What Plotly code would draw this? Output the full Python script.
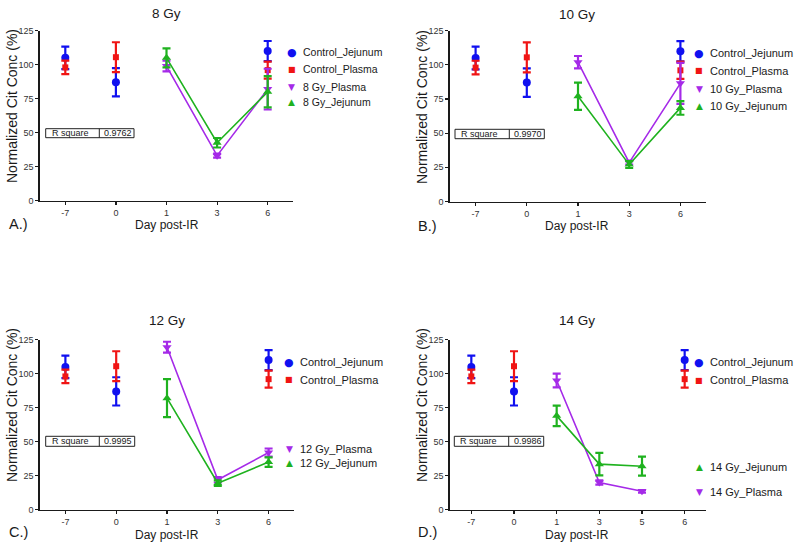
import plotly.graph_objects as go

W, H = 800, 547

# ---------------- data ----------------
days_main = ["-7", "0", "1", "3", "6"]
days_d = ["-7", "0", "1", "3", "5", "6"]
y_ticks = [0, 25, 50, 75, 100, 125]

ctrl_days = ["-7", "0", "6"]
ctrl_jej = [105, 87, 110]
ctrl_jej_err = [8.3, 10.4, 7.4]
ctrl_pla = [98, 105.5, 96]
ctrl_pla_err = [5, 11, 6.3]

dose_days = ["1", "3", "6"]
gy8_pla = [99, 33, 82]
gy8_pla_err = [4, 1.5, 15]
gy8_jej = [105, 42.5, 80]
gy8_jej_err = [7, 3.5, 11.5]

gy10_pla = [102, 28.5, 86.5]
gy10_pla_err = [4.5, 1.5, 15]
gy10_jej = [77, 27, 68.5]
gy10_jej_err = [10, 2.5, 5]

gy12_pla = [119.5, 22, 42]
gy12_pla_err = [4, 2, 3]
gy12_jej = [82, 19.5, 35]
gy12_jej_err = [14, 2, 3.5]

gy14_days = ["1", "3", "5"]
gy14_pla = [95, 20, 13.5]
gy14_pla_err = [5, 1.5, 1]
gy14_jej = [69, 33.5, 32]
gy14_jej_err = [7.5, 8.3, 7]

r_square = ["0.9762", "0.9970", "0.9995", "0.9986"]
titles = ["8 Gy", "10 Gy", "12 Gy", "14 Gy"]
panel_labels = ["A.)", "B.)", "C.)", "D.)"]

# ---------------- styles ----------------
BLUE = "#1010f0"
RED = "#f01414"
PURPLE = "#a52ae8"
GREEN = "#1fb21f"
FONT = "Liberation Sans, Arial, sans-serif"
AX = "#1a1a1a"
TXT = "#1a1a1a"

GLYPH = {"circle": ("\u25CF", 11), "square": ("\u25A0", 8),
         "triangle-down": ("\u25BC", 9), "triangle-up": ("\u25B2", 9)}


def px(x):
    return x / W


def py(y):
    return 1 - y / H


fig = go.Figure()
annotations = []
shapes = []

# panel geometry in pixels: (x0, x1, y_top(125), y_bottom(0))
panels = [
    (40, 293, 30.7, 200.5),
    (450, 706, 30.7, 201.5),
    (40, 294, 339.7, 509.7),
    (450, 706, 339.7, 509.7),
]


def add_trace(panel, name, xs, ys, err, color, symbol, size, lines, leg_xy, leg_font):
    ax = "" if panel == 0 else str(panel + 1)
    fig.add_trace(go.Scatter(
        x=xs, y=ys, name=name,
        mode="lines+markers" if lines else "markers",
        line=dict(color=color, width=1.6),
        marker=dict(color=color, symbol=symbol, size=size),
        error_y=dict(type="data", array=err, color=color, thickness=2.2, width=4),
        xaxis="x" + ax, yaxis="y" + ax, showlegend=False,
        cliponaxis=False,
    ))
    # legend entry (symbol glyph + label) as text
    mx, my = leg_xy
    g, gs = GLYPH[symbol]
    annotations.append(dict(text=g, x=px(mx), y=py(my), xref="paper", yref="paper",
                            showarrow=False, xanchor="center", yanchor="middle",
                            font=dict(size=gs, color=color, family="DejaVu Sans")))
    annotations.append(dict(text=name, x=px(mx + 9), y=py(my), xref="paper", yref="paper",
                            showarrow=False, xanchor="left", yanchor="middle",
                            font=dict(size=leg_font, color=TXT, family=FONT)))


# Panel A
add_trace(0, "Control_Jejunum", ctrl_days, ctrl_jej, ctrl_jej_err, BLUE, "circle", 8, False, (291.7, 52.3), 10.5)
add_trace(0, "Control_Plasma", ctrl_days, ctrl_pla, ctrl_pla_err, RED, "square", 6, False, (291.7, 69.3), 10.5)
add_trace(0, "8 Gy_Plasma", dose_days, gy8_pla, gy8_pla_err, PURPLE, "triangle-down", 8, True, (291.7, 86.7), 10.5)
add_trace(0, "8 Gy_Jejunum", dose_days, gy8_jej, gy8_jej_err, GREEN, "triangle-up", 8, True, (291.7, 102.3), 10.5)
# Panel B
add_trace(1, "Control_Jejunum", ctrl_days, ctrl_jej, ctrl_jej_err, BLUE, "circle", 8, False, (699, 53.3), 11)
add_trace(1, "Control_Plasma", ctrl_days, ctrl_pla, ctrl_pla_err, RED, "square", 6, False, (699, 71), 11)
add_trace(1, "10 Gy_Plasma", dose_days, gy10_pla, gy10_pla_err, PURPLE, "triangle-down", 8, True, (699, 89.3), 11)
add_trace(1, "10 Gy_Jejunum", dose_days, gy10_jej, gy10_jej_err, GREEN, "triangle-up", 8, True, (699, 106), 11)
# Panel C
add_trace(2, "Control_Jejunum", ctrl_days, ctrl_jej, ctrl_jej_err, BLUE, "circle", 8, False, (289, 362.3), 11)
add_trace(2, "Control_Plasma", ctrl_days, ctrl_pla, ctrl_pla_err, RED, "square", 6, False, (289, 379.7), 11)
add_trace(2, "12 Gy_Plasma", dose_days, gy12_pla, gy12_pla_err, PURPLE, "triangle-down", 8, True, (289, 449), 11)
add_trace(2, "12 Gy_Jejunum", dose_days, gy12_jej, gy12_jej_err, GREEN, "triangle-up", 8, True, (289, 463.3), 11)
# Panel D
add_trace(3, "Control_Jejunum", ctrl_days, ctrl_jej, ctrl_jej_err, BLUE, "circle", 8, False, (699, 362.3), 11)
add_trace(3, "Control_Plasma", ctrl_days, ctrl_pla, ctrl_pla_err, RED, "square", 6, False, (699, 380), 11)
add_trace(3, "14 Gy_Plasma", gy14_days, gy14_pla, gy14_pla_err, PURPLE, "triangle-down", 8, True, (699, 492), 11)
add_trace(3, "14 Gy_Jejunum", gy14_days, gy14_jej, gy14_jej_err, GREEN, "triangle-up", 8, True, (699, 467), 11)

layout = dict(
    width=W, height=H,
    margin=dict(l=0, r=0, t=0, b=0, autoexpand=False),
    paper_bgcolor="white", plot_bgcolor="white",
    font=dict(family=FONT, color=TXT),
    showlegend=False,
)

for i, (x0, x1, yt, yb) in enumerate(panels):
    ax = "" if i == 0 else str(i + 1)
    cats = days_d if i == 3 else days_main
    layout["xaxis" + ax] = dict(
        domain=[px(x0), px(x1)], anchor="y" + ax,
        type="category", categoryorder="array", categoryarray=cats,
        range=[-0.5, len(cats) - 0.5],
        showgrid=False, zeroline=False, showline=True, linecolor=AX, linewidth=1.6,
        ticks="outside", ticklen=3, tickwidth=1.2, tickcolor=AX,
        tickfont=dict(size=9, color="#333"), fixedrange=True,
    )
    layout["yaxis" + ax] = dict(
        domain=[py(yb), py(yt)], anchor="x" + ax,
        range=[0, 125], tickvals=y_ticks,
        showgrid=False, zeroline=False, showline=True, linecolor=AX, linewidth=1.6,
        ticks="outside", ticklen=3, tickwidth=1.2, tickcolor=AX,
        tickfont=dict(size=9, color="#333"), fixedrange=True,
    )

fig.update_layout(**layout)

title_pos = [(166, 13), (577, 14), (167, 320), (577, 320)]
xtitle_pos = [(167, 224.5), (577, 226), (167, 534.5), (577, 534.5)]
label_pos = [(7, 224), (416, 226), (7, 532), (416, 532)]
ytitle_pos = [(12, 106), (422, 107), (12, 405), (422, 405)]
rbox = [
    (45.7, 99.3, 134, 128.7, 137.7),
    (455, 509.3, 544.3, 129.3, 138.7),
    (45.7, 99.3, 134.7, 436.3, 446.3),
    (454.3, 508.7, 543.7, 436.3, 446.3),
]

for i in range(4):
    tx, ty = title_pos[i]
    annotations.append(dict(text=titles[i], x=px(tx), y=py(ty), xref="paper", yref="paper",
                            showarrow=False, xanchor="center", yanchor="middle",
                            font=dict(size=13.5, color=TXT)))
    xx, xy = xtitle_pos[i]
    annotations.append(dict(text="Day post-IR", x=px(xx), y=py(xy), xref="paper", yref="paper",
                            showarrow=False, xanchor="center", yanchor="middle", borderpad=0,
                            font=dict(size=12, color=TXT)))
    lx, ly = label_pos[i]
    annotations.append(dict(text=panel_labels[i], x=px(lx), y=py(ly), xref="paper", yref="paper",
                            showarrow=False, xanchor="left", yanchor="middle",
                            font=dict(size=14.5, color=TXT)))
    yx, yy = ytitle_pos[i]
    annotations.append(dict(text="Normalized Cit Conc (%)", x=px(yx), y=py(yy), xref="paper", yref="paper",
                            showarrow=False, xanchor="center", yanchor="middle", textangle=-90,
                            font=dict(size=14, color=TXT)))
    bx0, bxm, bx1, by0, by1 = rbox[i]
    shapes.append(dict(type="rect", xref="paper", yref="paper",
                       x0=px(bx0), x1=px(bx1), y0=py(by1), y1=py(by0),
                       line=dict(color="#222", width=1)))
    shapes.append(dict(type="line", xref="paper", yref="paper",
                       x0=px(bxm), x1=px(bxm), y0=py(by1), y1=py(by0),
                       line=dict(color="#222", width=1)))
    annotations.append(dict(text="R square", x=px(bx0 + 4), y=py((by0 + by1) / 2), xref="paper", yref="paper",
                            showarrow=False, xanchor="left", yanchor="middle",
                            font=dict(size=9, color=TXT)))
    annotations.append(dict(text=r_square[i], x=px(bxm + 3), y=py((by0 + by1) / 2), xref="paper", yref="paper",
                            showarrow=False, xanchor="left", yanchor="middle",
                            font=dict(size=9, color=TXT)))

fig.update_layout(annotations=annotations, shapes=shapes)
fig.write_html(
    "out.html",
    config={"displayModeBar": False, "staticPlot": True},
    post_script="document.body.style.margin='0';document.body.style.padding='0';"
                "document.documentElement.style.overflow='hidden';",
)
